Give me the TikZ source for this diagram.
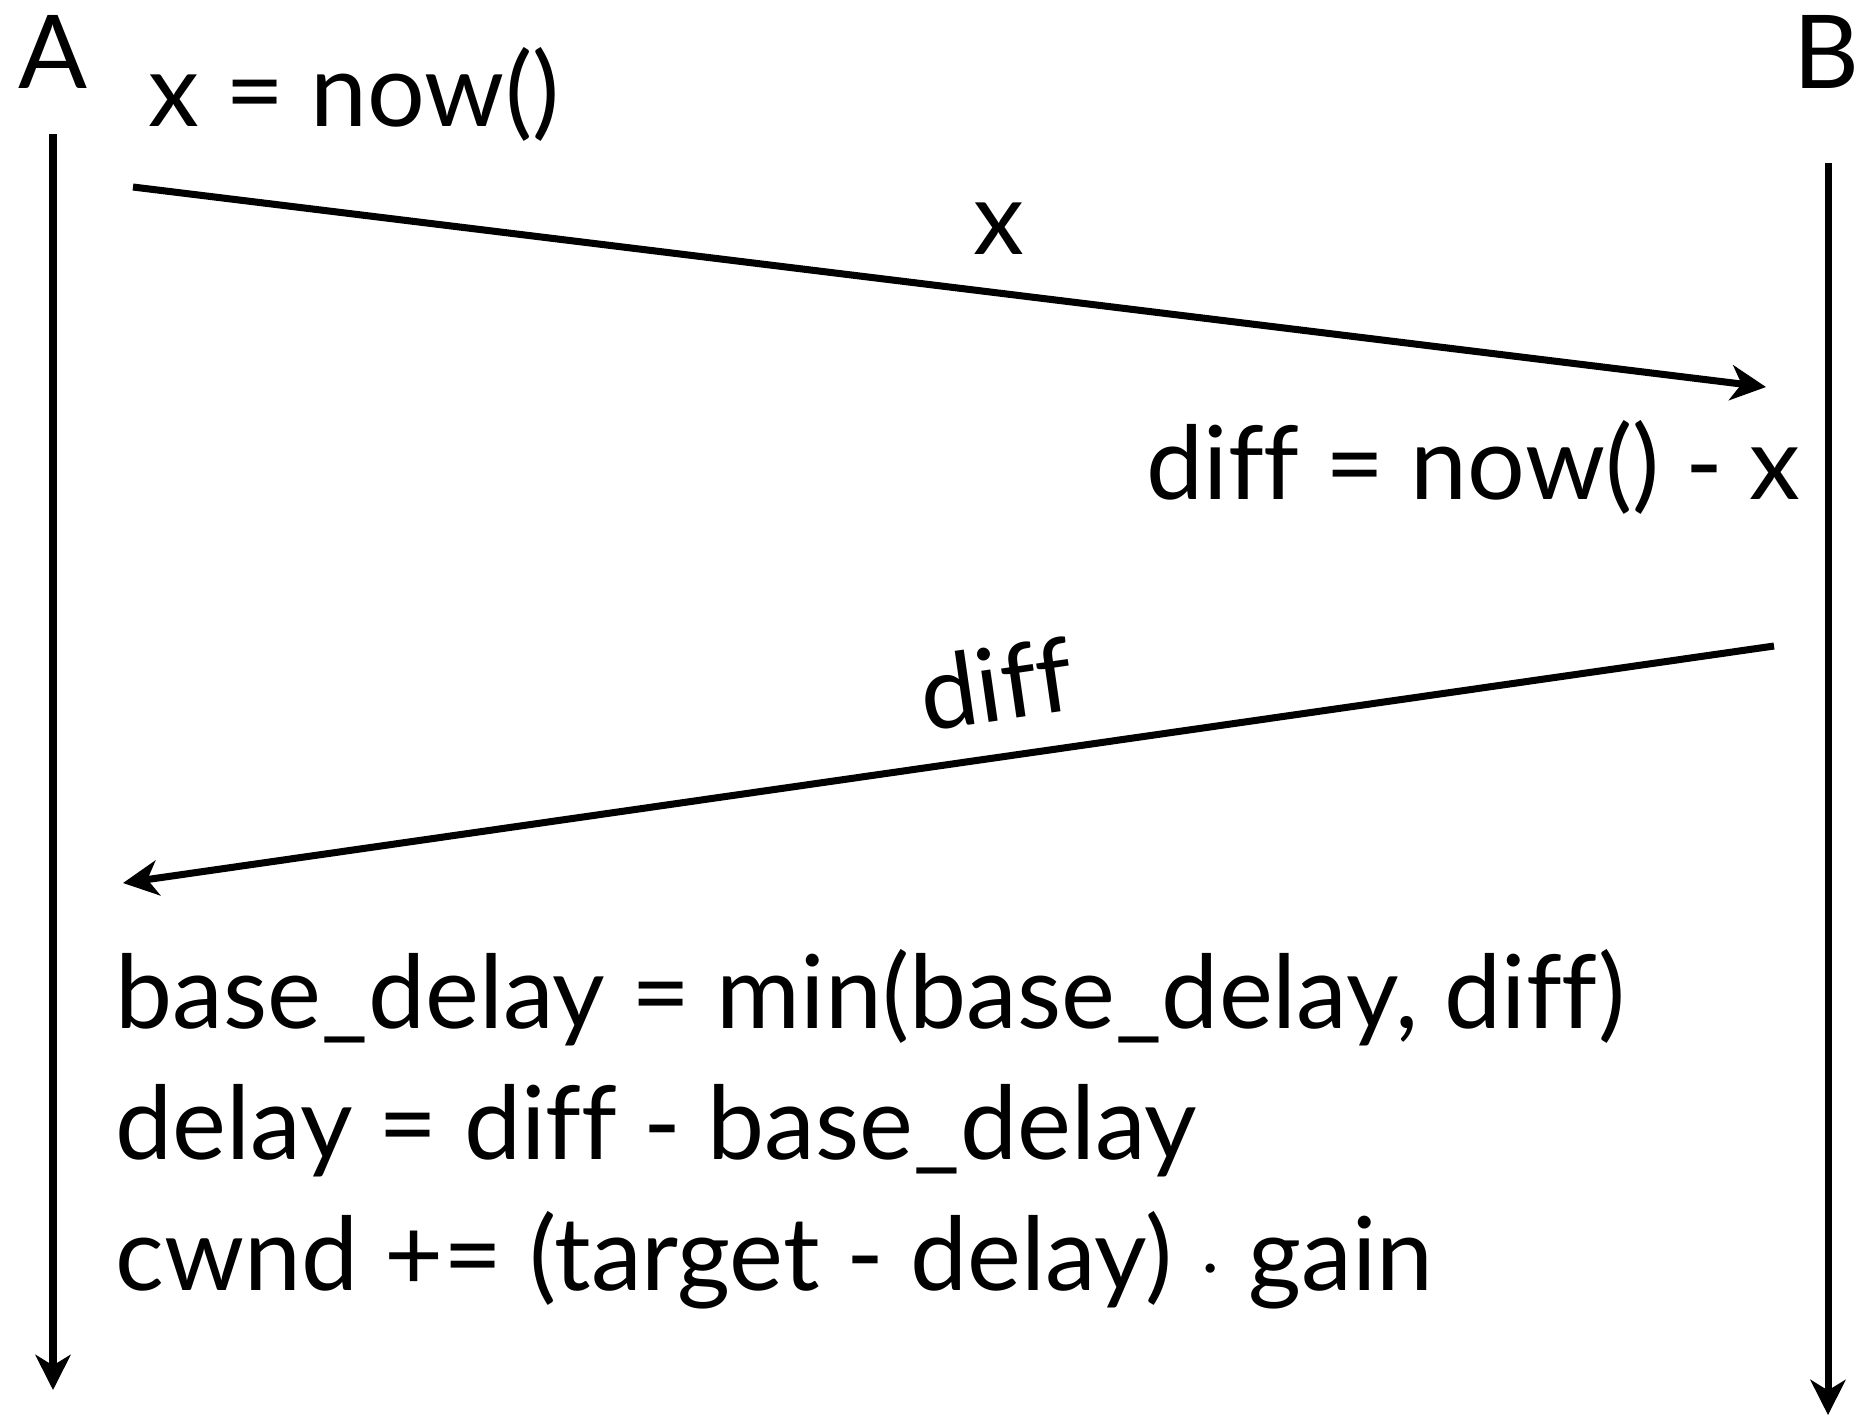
\documentclass[tikz,border=0pt]{standalone}
\usepackage{fontspec}
\setmainfont[Ligatures=NoCommon]{Lato}
\usepackage{tikz}
\usetikzlibrary{arrows.meta,positioning}
\definecolor{Ink}{HTML}{000000}
\tikzset{
  >={Stealth[length=10pt,width=10pt,inset=3pt]},
  big/.style={font=\fontsize{29}{35}\selectfont,inner sep=0pt,text=Ink},
  host/.style={big,anchor=base},
  code/.style={big,anchor=base west},
  life/.style={->,line width=2pt,draw=Ink},
  msg/.style={->,line width=2pt,draw=Ink}
}
\begin{document}
\begin{tikzpicture}[x=0.01cm,y=-0.01cm]
        \useasboundingbox (0,0) rectangle (1864,1417);
        % hosts and their time lines
        \node[host] (a) at (53,88) {A};
        \node[host] (b) at (1826,88) {B};
        \coordinate (a0) at (53,134);
        \coordinate (a1) at (53,1390);
        \coordinate (b0) at (1828,163);
        \coordinate (b1) at (1828,1415);
        \draw[life] (a0)--(a1);
        \draw[life] (b0)--(b1);
        % request
        \node[code] (send) at (148,126) {x = now()};
        \coordinate (p0) at (133,187);
        \coordinate (p1) at (1766,387);
        \draw[msg] (p0)--node[big,above=10pt,pos=.53] (px) {x}(p1);
        \node[big,anchor=base east] (recv) at (1801,499) {diff = now() - x};
        % reply
        \coordinate (q0) at (1774,646);
        \coordinate (q1) at (123,883);
        \draw[msg] (q0)--node[big,sloped,above=9pt,pos=.465] (qx) {diff}(q1);
        % update at A
        \node[code] (l1) at (115,1028) {base\_delay = min(base\_delay, diff)};
        \node[code] (l2) at (115,1159) {delay = diff - base\_delay};
        \node[code] (l3) at (115,1290) {cwnd += (target - delay) $\cdot$ gain};
      \end{tikzpicture}
\end{document}
